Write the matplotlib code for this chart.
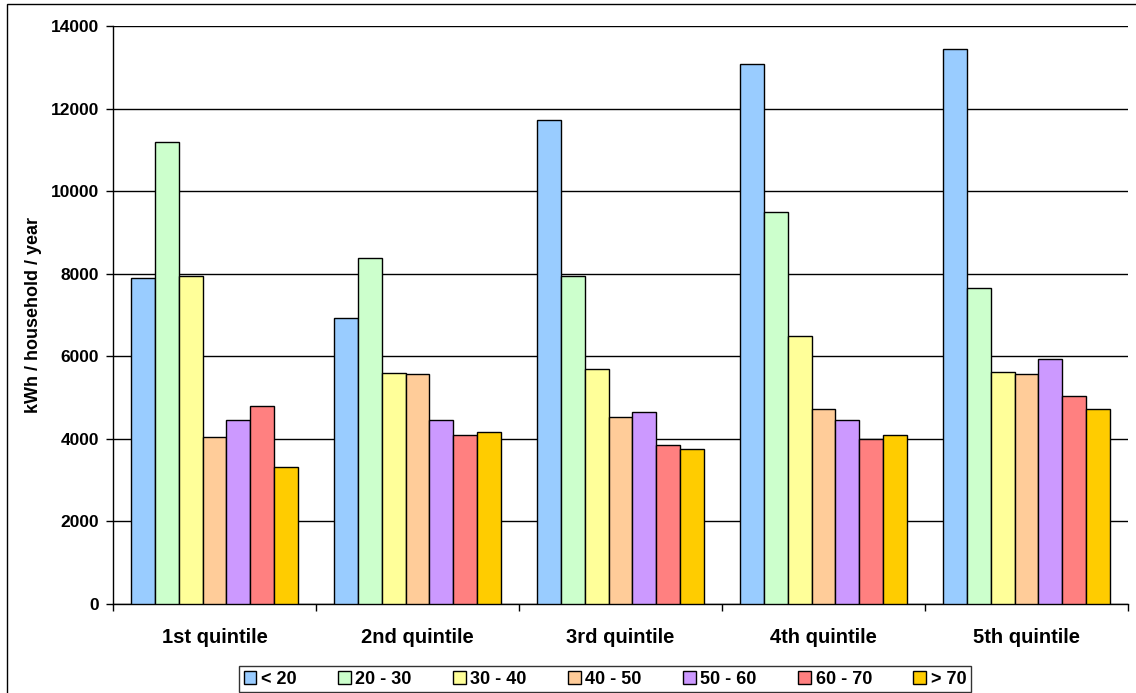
import numpy as np
import matplotlib.pyplot as plt
from matplotlib.patches import Rectangle

plt.rcParams['font.family'] = ['Liberation Sans', 'DejaVu Sans']
plt.rcParams['font.weight'] = 'bold'

# --- dados ---
quintiles = ['1st quintile', '2nd quintile', '3rd quintile', '4th quintile', '5th quintile']
age_groups = ['< 20', '20 - 30', '30 - 40', '40 - 50', '50 - 60', '60 - 70', '> 70']
lt20 = [7900, 6930, 11720, 13070, 13440]
g20_30 = [11200, 8380, 7945, 9505, 7650]
g30_40 = [7950, 5600, 5690, 6490, 5630]
g40_50 = [4050, 5565, 4530, 4720, 5560]
g50_60 = [4465, 4465, 4655, 4455, 5925]
g60_70 = [4790, 4090, 3840, 3996, 5035]
gt70 = [3330, 4160, 3755, 4095, 4725]
series = [lt20, g20_30, g30_40, g40_50, g50_60, g60_70, gt70]
colors = ['#99CCFF', '#CCFFCC', '#FFFF99', '#FFCC99', '#CC99FF', '#FF8080', '#FFCC00']

fig = plt.figure(figsize=(11.36, 6.93), dpi=100)
ax = fig.add_axes([113/1136, 1 - 604/693, (1128 - 113)/1136, (604 - 26)/693])

# moldura externa do gráfico (estilo Excel)
fig.patches.append(Rectangle((7/1136, -0.05), 1.2, 1 - 4/693 + 0.05, transform=fig.transFigure,
                             fill=False, edgecolor='black', linewidth=1.0, zorder=0))

x = np.arange(len(quintiles))
bw = 1 / 8.5
for i, (vals, col, lab) in enumerate(zip(series, colors, age_groups)):
    offs = (i - 3) * bw
    ax.bar(x + offs, vals, width=bw, color=col, edgecolor='black', linewidth=1.0,
           label=lab, zorder=3)

ax.set_xlim(-0.5, len(quintiles) - 0.5)
ax.set_ylim(0, 14000)
ax.set_yticks(np.arange(0, 14001, 2000))
ax.tick_params(axis='y', labelsize=12.5, length=5, width=1, pad=5)
ax.set_xticks(x)
ax.set_xticklabels(quintiles, fontsize=14.5, fontweight='bold')
ax.tick_params(axis='x', length=0, pad=17)
ax.set_xticks(np.arange(-0.5, len(quintiles)), minor=True)
ax.tick_params(axis='x', which='minor', length=5, width=1)
for lbl in ax.get_yticklabels():
    lbl.set_fontweight('bold')

ax.grid(axis='y', color='black', linewidth=1.0, zorder=0)
ax.set_axisbelow(True)
for s in ['top', 'right']:
    ax.spines[s].set_visible(False)
ax.spines['left'].set_linewidth(1.0)
ax.spines['bottom'].set_linewidth(1.0)

ax.set_ylabel('kWh / household / year', fontsize=13, fontweight='bold')
ax.yaxis.set_label_coords(-(113 - 42)/1015, 0.5)

leg = fig.legend(loc='center', bbox_to_anchor=(605/1136, 1 - 679/693), ncol=7,
                 fontsize=13, frameon=True, fancybox=False, edgecolor='black',
                 handlelength=0.7, handleheight=0.7, handletextpad=0.25,
                 columnspacing=2.3, borderpad=0.25)
leg.get_frame().set_linewidth(1.0)
for t in leg.get_texts():
    t.set_fontweight('bold')

fig.savefig('out.png', dpi=100)
